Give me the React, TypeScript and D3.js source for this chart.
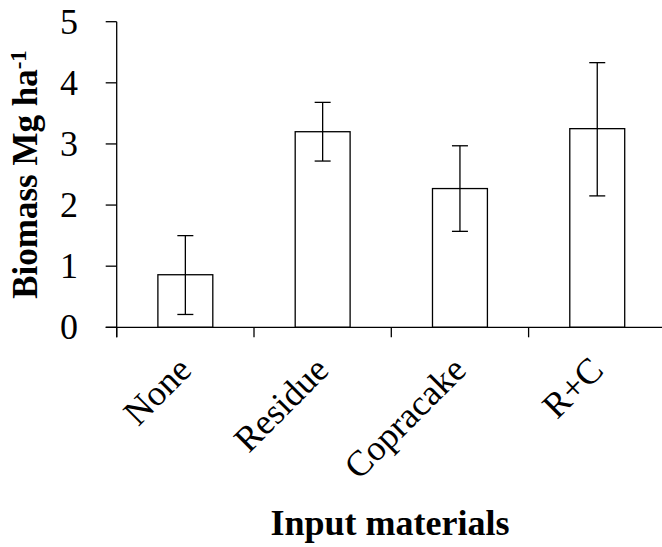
import React, { useRef, useEffect } from "react";
import * as d3 from "d3";

// values
const categories = ["None", "Residue", "Copracake", "R+C"];
const biomass = [0.86, 3.2, 2.27, 3.25];
const errLow = [0.21, 2.72, 1.57, 2.15];
const errHigh = [1.5, 3.68, 2.97, 4.33];
const yTicks = [0, 1, 2, 3, 4, 5];

const width = 662;
const height = 547;
const font = "'Liberation Serif', 'Times New Roman', serif";

function App() {
  const svgRef = useRef<SVGSVGElement | null>(null);

  useEffect(() => {
    const svg = d3.select(svgRef.current);
    svg.selectAll("*").remove();

    const x = d3
      .scaleBand()
      .domain(categories)
      .range([116.7, 116.7 + 4 * 137.3])
      .paddingInner(0.6)
      .paddingOuter(0.3);
    const step = x.step();
    const center = (c: string) => (x(c) as number) + x.bandwidth() / 2;

    const y = d3.scaleLinear().domain([0, 5]).range([327.3, 21.7]);

    const g = svg.append("g");

    // bars
    g.selectAll("rect.bar")
      .data(categories)
      .enter()
      .append("rect")
      .attr("class", "bar")
      .attr("x", d => x(d) as number)
      .attr("y", (d, i) => y(biomass[i]))
      .attr("width", x.bandwidth())
      .attr("height", (d, i) => y(0) - y(biomass[i]))
      .attr("fill", "#fff")
      .attr("stroke", "#000")
      .attr("stroke-width", 1.3);

    // error bars
    const eb = g.selectAll("g.err").data(categories).enter().append("g");
    eb.append("line")
      .attr("x1", d => center(d))
      .attr("x2", d => center(d))
      .attr("y1", (d, i) => y(errLow[i]))
      .attr("y2", (d, i) => y(errHigh[i]))
      .attr("stroke", "#000")
      .attr("stroke-width", 1.3);
    eb.append("line")
      .attr("x1", d => center(d) - 8)
      .attr("x2", d => center(d) + 8)
      .attr("y1", (d, i) => y(errLow[i]))
      .attr("y2", (d, i) => y(errLow[i]))
      .attr("stroke", "#000")
      .attr("stroke-width", 1.3);
    eb.append("line")
      .attr("x1", d => center(d) - 8)
      .attr("x2", d => center(d) + 8)
      .attr("y1", (d, i) => y(errHigh[i]))
      .attr("y2", (d, i) => y(errHigh[i]))
      .attr("stroke", "#000")
      .attr("stroke-width", 1.3);

    // y axis
    const x0 = 116.7;
    g.append("line")
      .attr("x1", x0)
      .attr("x2", x0)
      .attr("y1", y(5))
      .attr("y2", y(0) + 10)
      .attr("stroke", "#000")
      .attr("stroke-width", 1.3);
    g.selectAll("line.ytick")
      .data(yTicks)
      .enter()
      .append("line")
      .attr("x1", x0 - 11)
      .attr("x2", x0)
      .attr("y1", d => y(d))
      .attr("y2", d => y(d))
      .attr("stroke", "#000")
      .attr("stroke-width", 1.3);
    g.selectAll("text.ylab")
      .data(yTicks)
      .enter()
      .append("text")
      .attr("x", 78)
      .attr("y", d => y(d) + 12)
      .attr("text-anchor", "end")
      .attr("font-family", font)
      .attr("font-size", 36)
      .text(d => d);

    // x axis
    g.append("line")
      .attr("x1", x0 - 11)
      .attr("x2", width)
      .attr("y1", y(0))
      .attr("y2", y(0))
      .attr("stroke", "#000")
      .attr("stroke-width", 1.3);
    g.selectAll("line.xtick")
      .data(d3.range(categories.length + 1))
      .enter()
      .append("line")
      .attr("x1", i => x0 + i * step)
      .attr("x2", i => x0 + i * step)
      .attr("y1", y(0))
      .attr("y2", y(0) + 10)
      .attr("stroke", "#000")
      .attr("stroke-width", 1.3);
    g.selectAll("text.xlab")
      .data(categories)
      .enter()
      .append("text")
      .attr("transform", d => `translate(${center(d) + 8},${372}) rotate(-45)`)
      .attr("text-anchor", "end")
      .attr("font-family", font)
      .attr("font-size", 36)
      .text(d => d);

    // axis titles
    g.append("text")
      .attr("x", 390)
      .attr("y", 535)
      .attr("text-anchor", "middle")
      .attr("font-family", font)
      .attr("font-weight", "bold")
      .attr("font-size", 36)
      .text("Input materials");

    const yt = g
      .append("text")
      .attr("transform", `translate(37,${(y(0) + y(5)) / 2}) rotate(-90)`)
      .attr("text-anchor", "middle")
      .attr("font-family", font)
      .attr("font-weight", "bold")
      .attr("font-size", 35);
    yt.append("tspan").text("Biomass Mg ha");
    yt.append("tspan").attr("dy", -11).attr("font-size", 23).text("-1");
  }, []);

  return (
    <svg
      ref={svgRef}
      width={width}
      height={height}
      style={{ position: "absolute", left: 0, top: 0, background: "#fff" }}
    />
  );
}

export default App;
